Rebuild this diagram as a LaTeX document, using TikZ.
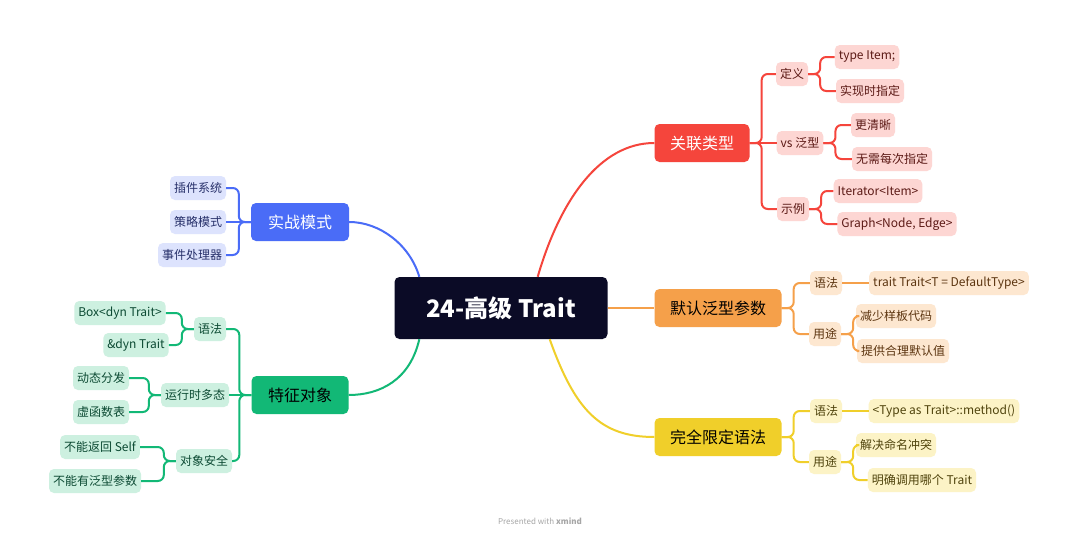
\documentclass[tikz,border=0pt]{standalone}
\usepackage{fontspec}
\setmainfont{Noto Sans CJK SC}
\begin{document}
\begin{tikzpicture}[x=1pt,y=-1pt,
 main/.style={rounded corners=5pt,inner sep=0pt,minimum height=38pt,text=white,font=\fontsize{16}{18}\selectfont},
 sub/.style={rounded corners=5pt,inner sep=4pt,minimum height=24pt,font=\fontsize{12}{14}\selectfont},
 cn/.style={line width=2pt,rounded corners=6pt},
 R/.style={sub,fill=rL,text=rT}, O/.style={sub,fill=oL,text=oT},
 Y/.style={sub,fill=yL,text=yT}, B/.style={sub,fill=bL,text=bT}, G/.style={sub,fill=gL,text=gT}]
\definecolor{rM}{HTML}{F5453C}\definecolor{rL}{HTML}{FDD6D3}\definecolor{rT}{HTML}{5C1A16}
\definecolor{oM}{HTML}{F5A04A}\definecolor{oL}{HTML}{FDE7D0}\definecolor{oT}{HTML}{5C3510}
\definecolor{yM}{HTML}{F0CF2A}\definecolor{yL}{HTML}{FCF3C6}\definecolor{yT}{HTML}{4F430C}
\definecolor{bM}{HTML}{4A6CF7}\definecolor{bL}{HTML}{DDE3FD}\definecolor{bT}{HTML}{27306A}
\definecolor{gM}{HTML}{12B876}\definecolor{gL}{HTML}{CDF0E0}\definecolor{gT}{HTML}{0C4A33}
\definecolor{navy}{HTML}{0B0B26}
\useasboundingbox[fill=white] (0,0) rectangle (1080,541);
% root
\node[rounded corners=5pt,fill=navy,text=white,minimum width=213pt,minimum height=62pt,font=\fontsize{24}{28}\selectfont\bfseries] (root) at (501,308) {24-高级 Trait};
% main branches
\node[main,fill=rM,minimum width=95pt] (a) at (702,143) {关联类型};
\node[main,fill=oM,minimum width=127pt,text=black] (b) at (718,308) {默认泛型参数};
\node[main,fill=yM,minimum width=127pt,text=black] (c) at (718,437) {完全限定语法};
\node[main,fill=bM,minimum width=98pt] (d) at (300,222) {实战模式};
\node[main,fill=gM,minimum width=97pt,text=black] (e) at (300,395) {特征对象};
\draw[cn,rM,rounded corners=0pt] ([xshift=-70pt]root.north east) .. controls (560,200) and (600,143) .. (a.west);
\draw[cn,oM] (root.east) -- (b.west);
\draw[cn,yM,rounded corners=0pt] ([xshift=-58pt]root.south east) .. controls (575,410) and (600,437) .. (c.west);
\draw[cn,bM,rounded corners=0pt] ([xshift=25pt]root.north west) .. controls (410,245) and (380,222) .. (d.east);
\draw[cn,gM,rounded corners=0pt] ([xshift=25pt]root.south west) .. controls (410,380) and (380,395) .. (e.east);
% red subtree
\node[R] (a1) at (792,74) {定义};
\node[R] (a11) at (867,57) {type Item;};
\node[R] (a12) at (870,91) {实现时指定};
\node[R] (a2) at (800,143) {vs 泛型};
\node[R] (a21) at (873,125) {更清晰};
\node[R] (a22) at (892,159) {无需每次指定};
\node[R] (a3) at (793,209) {示例};
\node[R] (a31) at (878,191) {Iterator<Item>};
\node[R] (a32) at (897,224) {Graph<Node, Edge>};
\foreach \s in {a1,a3}{\draw[cn,rM] (a.east) -- ++(12,0) |- (\s.west);}
\draw[cn,rM] (a.east) -- (a2.west);
\foreach \p/\s in {a1/a11,a1/a12,a2/a21,a2/a22,a3/a31,a3/a32}{\draw[cn,rM] (\p.east) -- ++(12,0) |- (\s.west);}
% orange
\node[O] (b1) at (826,283) {语法};
\node[O] (b11) at (949,283) {trait Trait<T = DefaultType>};
\node[O] (b2) at (825,334) {用途};
\node[O] (b21) at (896,316) {减少样板代码};
\node[O] (b22) at (903,351) {提供合理默认值};
\foreach \s in {b1,b2}{\draw[cn,oM] (b.east) -- ++(12,0) |- (\s.west);}
\draw[cn,oM] (b1.east) -- (b11.west);
\foreach \p/\s in {b2/b21,b2/b22}{\draw[cn,oM] (\p.east) -- ++(12,0) |- (\s.west);}
% yellow
\node[Y] (c1) at (826,411) {语法};
\node[Y] (c11) at (944,411) {<Type as Trait>::method()};
\node[Y] (c2) at (825,462) {用途};
\node[Y] (c21) at (896,445) {解决命名冲突};
\node[Y] (c22) at (922,480) {明确调用哪个 Trait};
\foreach \s in {c1,c2}{\draw[cn,yM] (c.east) -- ++(12,0) |- (\s.west);}
\draw[cn,yM] (c1.east) -- (c11.west);
\foreach \p/\s in {c2/c21,c2/c22}{\draw[cn,yM] (\p.east) -- ++(12,0) |- (\s.west);}
% blue
\node[B] (d1) at (198,188) {插件系统};
\node[B] (d2) at (198,222) {策略模式};
\node[B] (d3) at (192,255) {事件处理器};
\foreach \s in {d1,d3}{\draw[cn,bM] (d.west) -- ++(-12,0) |- (\s.east);}
\draw[cn,bM] (d.west) -- (d2.east);
% green
\node[G] (e1) at (210,329) {语法};
\node[G] (e11) at (120,313) {Box<dyn Trait>};
\node[G] (e12) at (136,345) {\&dyn Trait};
\node[G] (e2) at (195,395) {运行时多态};
\node[G] (e21) at (101,378) {动态分发};
\node[G] (e22) at (101,412) {虚函数表};
\node[G] (e3) at (204,461) {对象安全};
\node[G] (e31) at (100,447) {不能返回 Self};
\node[G] (e32) at (95,481) {不能有泛型参数};
\foreach \s in {e1,e3}{\draw[cn,gM] (e.west) -- ++(-12,0) |- (\s.east);}
\draw[cn,gM] (e.west) -- (e2.east);
\foreach \p/\s in {e1/e11,e1/e12,e2/e21,e2/e22,e3/e31,e3/e32}{\draw[cn,gM] (\p.west) -- ++(-12,0) |- (\s.east);}
\node[text=gray!70,font=\fontsize{8}{10}\selectfont] (ft) at (540,521) {Presented with \textbf{xmind}};
\end{tikzpicture}
\end{document}
